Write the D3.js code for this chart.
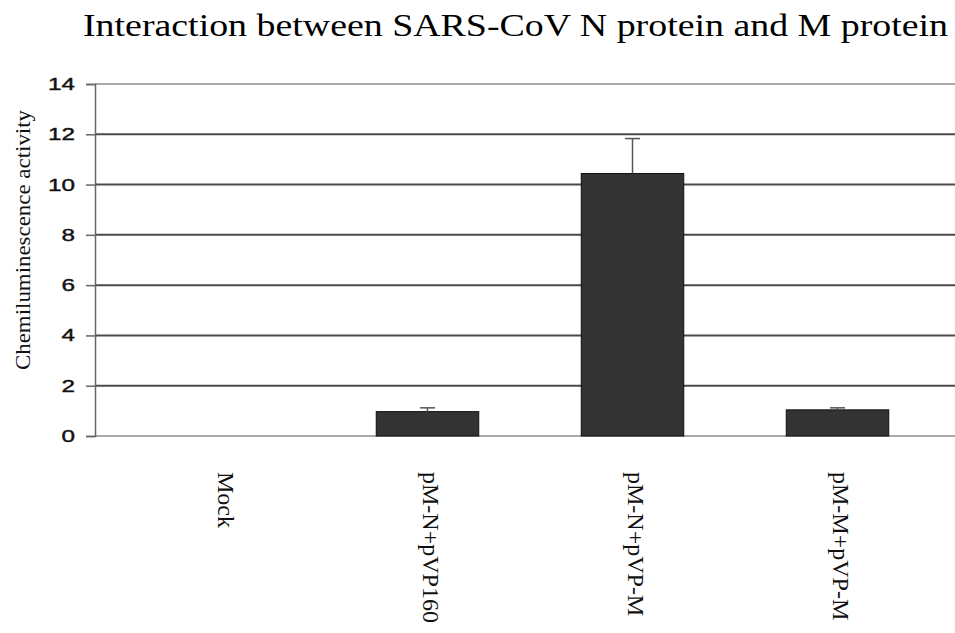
<!DOCTYPE html>
<html>
<head>
<meta charset="utf-8">
<script src="https://cdn.jsdelivr.net/npm/d3@7"></script>
<style>
  body { margin: 0; background: #fff; }
  svg { display: block; }
  .serif { font-family: "Liberation Serif", "Times New Roman", Times, serif; }
  .sans { font-family: "Liberation Sans", Arial, Helvetica, sans-serif; }
</style>
</head>
<body>
<script>
// data
var categories = ["Mock", "pM-N+pVP160", "pM-N+pVP-M", "pM-M+pVP-M"];
var values = [0, 0.97, 10.44, 1.04];
var errors = [0, 0.15, 1.39, 0.08];
var yTicks = [0, 2, 4, 6, 8, 10, 12, 14];

var width = 955, height = 633;

var svg = d3.select("body").append("svg")
    .attr("width", width)
    .attr("height", height);

var x = d3.scaleBand()
    .domain(categories)
    .range([120, 940])
    .paddingInner(0.5)
    .paddingOuter(0.25);

var y = d3.scaleLinear()
    .domain([0, 14])
    .range([436, 84]);

var axisX = 95, plotRight = 955;

// gridlines
svg.append("g").selectAll("line")
    .data(yTicks)
    .enter().append("line")
    .attr("x1", axisX)
    .attr("x2", plotRight)
    .attr("y1", function(d) { return y(d); })
    .attr("y2", function(d) { return y(d); })
    .attr("stroke", function(d) { return (d == 0 || d == 14) ? "#aaa" : "#4a4a4a"; })
    .attr("stroke-width", 2);

// y axis
var yAxis = svg.append("g")
    .attr("transform", "translate(" + axisX + ",0)")
    .call(d3.axisLeft(y).tickValues(yTicks).tickSize(9).tickPadding(11));
yAxis.attr("font-family", null).attr("font-size", null);
yAxis.select(".domain").attr("stroke", "#666").attr("stroke-width", 1.5);
yAxis.selectAll(".tick line").attr("stroke", "#666").attr("stroke-width", 1.5);
yAxis.selectAll("text")
    .attr("class", "sans")
    .style("font-size", "17px")
    .attr("fill", "#111")
    .attr("stroke", "#111")
    .attr("stroke-width", 0.4)
    .attr("textLength", function(d) { return String(d).length * 13.5; })
    .attr("lengthAdjust", "spacingAndGlyphs");

// bars
svg.append("g").selectAll("rect")
    .data(values)
    .enter().append("rect")
    .attr("x", function(d, i) { return x(categories[i]); })
    .attr("y", function(d) { return y(d); })
    .attr("width", x.bandwidth())
    .attr("height", function(d) { return y(0) - y(d); })
    .attr("fill", "#333")
    .attr("stroke", "#111")
    .attr("stroke-width", 1)
    .style("display", function(d) { return d > 0 ? null : "none"; });

// error bars (upper only)
var err = svg.append("g").selectAll("g")
    .data(values)
    .enter().append("g")
    .style("display", function(d, i) { return errors[i] > 0 ? null : "none"; });
err.append("line")
    .attr("x1", function(d, i) { return x(categories[i]) + x.bandwidth() / 2; })
    .attr("x2", function(d, i) { return x(categories[i]) + x.bandwidth() / 2; })
    .attr("y1", function(d) { return y(d); })
    .attr("y2", function(d, i) { return y(d + errors[i]); })
    .attr("stroke", "#555")
    .attr("stroke-width", 1.5);
err.append("line")
    .attr("x1", function(d, i) { return x(categories[i]) + x.bandwidth() / 2 - 7.5; })
    .attr("x2", function(d, i) { return x(categories[i]) + x.bandwidth() / 2 + 7.5; })
    .attr("y1", function(d, i) { return y(d + errors[i]); })
    .attr("y2", function(d, i) { return y(d + errors[i]); })
    .attr("stroke", "#555")
    .attr("stroke-width", 1.5);

// category labels, rotated
svg.append("g").selectAll("text")
    .data(categories)
    .enter().append("text")
    .attr("class", "serif")
    .attr("transform", function(d) {
        return "translate(" + (x(d) + x.bandwidth() / 2 + 4) + ",472) rotate(90)";
    })
    .attr("dy", "0.35em")
    .style("font-size", "24px")
    .attr("fill", "#111")
    .text(function(d) { return d; });

// y axis title
svg.append("text")
    .attr("class", "serif")
    .attr("transform", "translate(22,240) rotate(-90)")
    .attr("text-anchor", "middle")
    .attr("dy", "0.35em")
    .style("font-size", "22px")
    .attr("fill", "#111")
    .attr("textLength", 260)
    .attr("lengthAdjust", "spacingAndGlyphs")
    .text("Chemiluminescence activity");

// title
svg.append("text")
    .attr("class", "serif")
    .attr("x", 83)
    .attr("y", 36)
    .style("font-size", "32px")
    .attr("fill", "#000")
    .attr("textLength", 865)
    .attr("lengthAdjust", "spacingAndGlyphs")
    .text("Interaction between SARS-CoV N protein and M protein");
</script>
</body>
</html>
